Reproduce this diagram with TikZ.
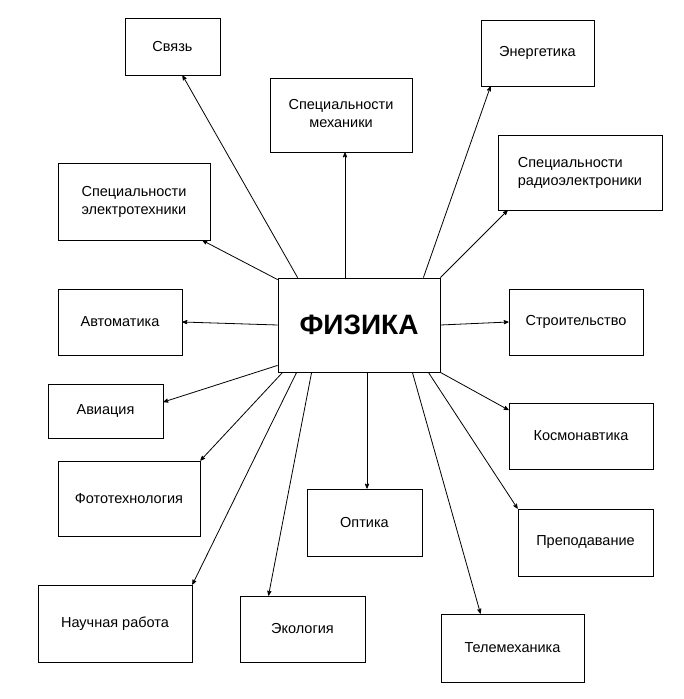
\documentclass[tikz,border=0pt]{standalone}
\usepackage{fontspec}
\setmainfont{Liberation Sans}
\usetikzlibrary{arrows,positioning}
\tikzset{
>=stealth',
branch/.style={rectangle, draw=black, fill=white, line width=0.8pt, inner sep=2pt, font=\fontsize{14.5}{18}\selectfont},
line/.style={draw, line width=0.8pt, ->},
}
\newcommand{\boxat}[6]{% name, x1, y1, x2, y2, text
\node[branch, minimum width={(#4-#2)*1pt}, minimum height={(#5-#3)*1pt}] (#1) at ({(#2+#4)/2},{(#3+#5)/2}) {#6};}

\begin{document}
\begin{tikzpicture}[x=1pt,y=-1pt]
\useasboundingbox (0,0) rectangle (684,699);

\boxat{fiz}{278}{278}{440}{372}{\fontsize{28}{32}\selectfont\bfseries ФИЗИКА}
\boxat{svyaz}{125}{18}{220}{75}{Связь}
\boxat{mech}{270}{78}{412}{152}{\begin{tabular}{@{}c@{}}Специальности\\механики\end{tabular}}
\boxat{energ}{481}{20}{594}{86}{Энергетика}
\boxat{radio}{498}{135}{662}{210}{\begin{tabular}{@{}l@{}}Специальности\\радиоэлектроники\end{tabular}}
\boxat{elektro}{58}{163}{210}{240}{\begin{tabular}{@{}l@{}}Специальности\\электротехники\end{tabular}}
\boxat{avtom}{58}{289}{182}{355}{Автоматика}
\boxat{stroit}{509}{289}{643}{355}{Строительство}
\boxat{aviac}{48}{384}{163}{438}{Авиация}
\boxat{kosmo}{509}{403}{653}{469}{Космонавтика}
\boxat{foto}{58}{461}{200}{536}{Фототехнология}
\boxat{optika}{307}{489}{422}{556}{Оптика}
\boxat{prepod}{518}{509}{653}{576}{Преподавание}
\boxat{nauch}{38}{585}{192}{662}{Научная работа}
\boxat{ekol}{240}{596}{365}{662}{Экология}
\boxat{telem}{441}{614}{584}{682}{Телемеханика}

% arrows out of the centre box
\draw[line] ([xshift=20pt]fiz.north west) -- ([xshift=10pt]svyaz.south);
\draw[line] ([xshift=-14pt]fiz.north) -- ([xshift=4pt]mech.south);
\draw[line] ([xshift=-17pt]fiz.north east) -- ([xshift=-47pt]energ.south);
\draw[line] (fiz.north east) -- ([xshift=10pt]radio.south west);
\draw[line] ([yshift=-2pt]fiz.north west) -- ([xshift=-8pt]elektro.south east);
\draw[line] (fiz.west) -- (avtom.east);
\draw[line] (fiz.east) -- (stroit.west);
\draw[line] ([yshift=7pt]fiz.south west) -- ([yshift=9pt]aviac.east);
\draw[line] (fiz.south east) -- ([yshift=26pt]kosmo.west);
\draw[line] ([xshift=5pt]fiz.south west) -- (foto.north east);
\draw[line] ([xshift=8pt]fiz.south) -- ([xshift=2.5pt]optika.north);
\draw[line] ([xshift=-12pt]fiz.south east) -- (prepod.north west);
\draw[line] ([xshift=19pt]fiz.south west) -- (nauch.north east);
\draw[line] ([xshift=34pt]fiz.south west) -- ([xshift=-34pt]ekol.north);
\draw[line] ([xshift=-28pt]fiz.south east) -- ([xshift=-32pt]telem.north);

\end{tikzpicture}
\end{document}
